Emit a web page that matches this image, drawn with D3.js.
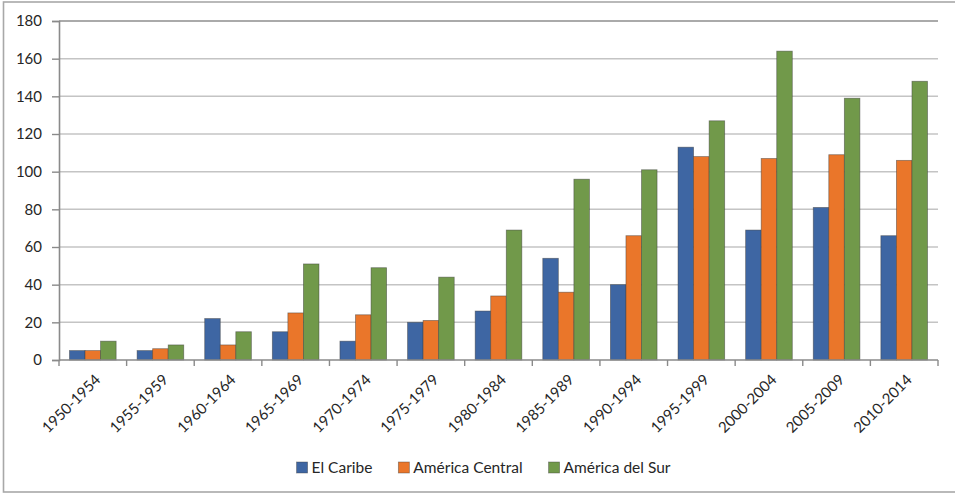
<!DOCTYPE html>
<html>
<head>
<meta charset="utf-8">
<script src="https://cdn.jsdelivr.net/npm/d3@7"></script>
<style>
  body { margin: 0; background: #fff; }
  svg { display: block; font-family: Lato, "Liberation Sans", sans-serif; }
</style>
</head>
<body>
<div id="chart"></div>
<script>
const periods = ["1950-1954", "1955-1959", "1960-1964", "1965-1969", "1970-1974", "1975-1979",
  "1980-1984", "1985-1989", "1990-1994", "1995-1999", "2000-2004", "2005-2009", "2010-2014"];
const seriesNames = ["El Caribe", "América Central", "América del Sur"];
const caribe = [5, 5, 22, 15, 10, 20, 26, 54, 40, 113, 69, 81, 66];
const central = [5, 6, 8, 25, 24, 21, 34, 36, 66, 108, 107, 109, 106];
const sur = [10, 8, 15, 51, 49, 44, 69, 96, 101, 127, 164, 139, 148];
const yTicks = [0, 20, 40, 60, 80, 100, 120, 140, 160, 180];
const colors = ["#3e66a3", "#ea762a", "#71994a"];

const width = 955, height = 494;
const plot = { left: 59, right: 938, top: 21, bottom: 360 };

const table = periods.map((p, i) => ({ period: p, values: [caribe[i], central[i], sur[i]] }));

const svg = d3.select("#chart").append("svg")
  .attr("width", width)
  .attr("height", height);

// outer chart border
svg.append("rect")
  .attr("x", 3.5).attr("y", 2)
  .attr("width", 960).attr("height", 490)
  .attr("fill", "none")
  .attr("stroke", "#a8a8a8")
  .attr("stroke-width", 1.6);

const x = d3.scaleBand()
  .domain(periods)
  .range([plot.left, plot.right]);

const bw = x.bandwidth();
const x1 = d3.scaleBand()
  .domain(d3.range(seriesNames.length))
  .range([bw * 0.155, bw * 0.845]);

const y = d3.scaleLinear()
  .domain([0, 180])
  .range([plot.bottom, plot.top]);

// gridlines
svg.append("g")
  .selectAll("line")
  .data(yTicks.filter(d => d > 0))
  .enter().append("line")
  .attr("x1", plot.left).attr("x2", plot.right)
  .attr("y1", d => y(d)).attr("y2", d => y(d))
  .attr("stroke", d => d === 180 ? "#8e8e8e" : "#c4c4c4")
  .attr("stroke-width", 1.5);

// y axis
const yAxis = svg.append("g")
  .attr("transform", `translate(${plot.left},0)`)
  .call(d3.axisLeft(y).tickValues(yTicks).tickSize(7).tickPadding(10));
yAxis.select(".domain").attr("stroke", "#8a8a8a").attr("stroke-width", 1.6);
yAxis.selectAll(".tick line").attr("stroke", "#8a8a8a").attr("stroke-width", 1.4);
yAxis.selectAll("text")
  .style("font-size", "15px")
  .style("font-family", "Lato, sans-serif")
  .attr("fill", "#262626");

// bars
const groups = svg.append("g")
  .selectAll("g")
  .data(table)
  .enter().append("g")
  .attr("transform", d => `translate(${x(d.period)},0)`);

groups.selectAll("rect")
  .data(d => d.values.map((v, i) => ({ v, i })))
  .enter().append("rect")
  .attr("x", d => x1(d.i))
  .attr("width", x1.bandwidth())
  .attr("y", d => y(d.v))
  .attr("height", d => y(0) - y(d.v))
  .attr("fill", d => colors[d.i])
  .attr("stroke", "#3c3c3c")
  .attr("stroke-opacity", 0.55)
  .attr("stroke-width", 0.8);

// x axis
const xAxis = svg.append("g")
  .attr("transform", `translate(0,${plot.bottom})`);
xAxis.append("line")
  .attr("x1", plot.left).attr("x2", plot.right)
  .attr("stroke", "#8a8a8a").attr("stroke-width", 1.6);
xAxis.selectAll(".tk")
  .data(periods.map(p => x(p)).concat([plot.right]))
  .enter().append("line")
  .attr("class", "tk")
  .attr("x1", d => d).attr("x2", d => d)
  .attr("y1", 0).attr("y2", 6)
  .attr("stroke", "#8a8a8a").attr("stroke-width", 1.4);

xAxis.selectAll("text")
  .data(periods)
  .enter().append("text")
  .attr("transform", d => `translate(${x(d) + bw / 2 + 5},${17}) rotate(-45)`)
  .attr("text-anchor", "end")
  .attr("dy", "0.35em")
  .style("font-size", "15px")
  .attr("fill", "#262626")
  .text(d => d);

// legend
const legend = svg.append("g");
let lx = 0;
seriesNames.forEach((name, i) => {
  const item = legend.append("g").attr("transform", `translate(${lx},0)`);
  item.append("rect")
    .attr("x", 0).attr("y", -5.5)
    .attr("width", 11).attr("height", 11)
    .attr("fill", colors[i])
    .attr("stroke", "#3c3c3c").attr("stroke-opacity", 0.5).attr("stroke-width", 0.8);
  const t = item.append("text")
    .attr("x", 15).attr("dy", "0.35em")
    .style("font-size", "15.5px")
    .attr("fill", "#262626")
    .text(name);
  lx += 15 + t.node().getComputedTextLength() + 26;
});
const legendWidth = lx - 26;
legend.attr("transform", `translate(${483.5 - legendWidth / 2},467.5)`);
</script>
</body>
</html>
